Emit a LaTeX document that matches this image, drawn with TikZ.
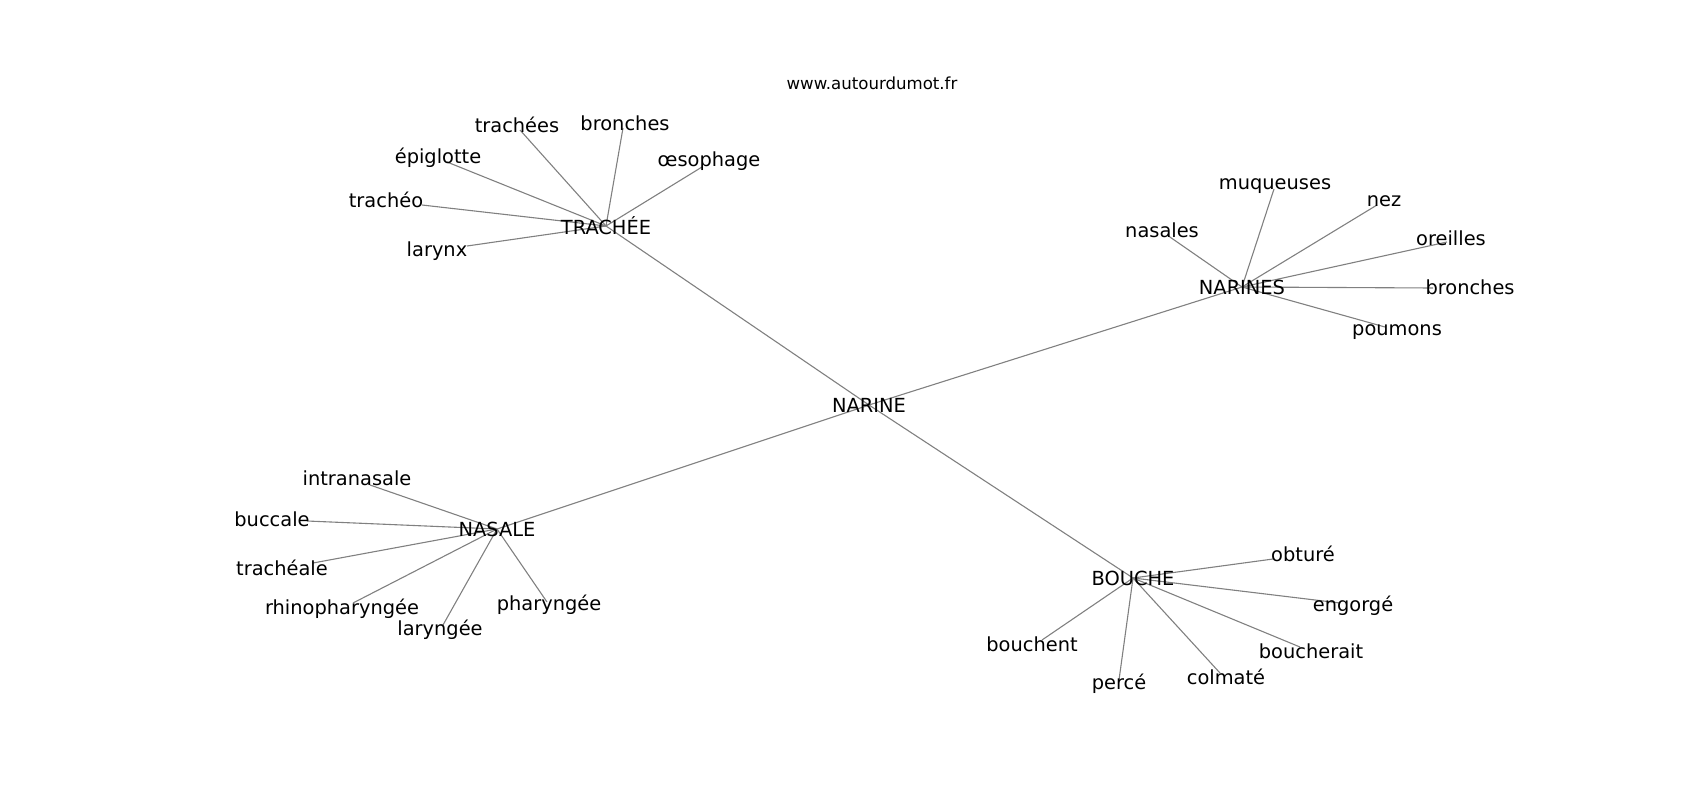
\documentclass[tikz,border=0pt]{standalone}
\usepackage{fontspec}
\setmainfont{DejaVu Sans}
\usetikzlibrary{backgrounds}
\definecolor{edgegray}{RGB}{128,128,128}
\newcommand{\wordfont}{\fontsize{19.4}{23}\selectfont}
\newcommand{\sitefont}{\fontsize{16.6}{19}\selectfont}

\begin{document}
\begin{tikzpicture}[x=1pt,y=-1pt,
  every node/.style={inner sep=0pt,font=\wordfont},
  hub/.style={},
  word/.style={},
  edge/.style={draw=edgegray,line width=1.1pt}
]
\useasboundingbox (0,0) rectangle (1700,800);

% the site
\node[font=\sitefont] (site) at (872,83) {www.autourdumot.fr};

% the hubs
\node[hub] (narine) at (869,405) {NARINE};
\node[hub] (trachee) at (606,226) {TRACHÉE};
\node[hub] (narines) at (1242,287) {NARINES};
\node[hub] (nasale) at (497,529) {NASALE};
\node[hub] (bouche) at (1133,578) {BOUCHE};

% the words
\foreach \h/\n/\px/\py/\lx/\ly/\w in {
  trachee/trachees/520/130/517/125/trachées,
  trachee/bronchesA/623/128/625/123/bronches,
  trachee/oesophage/702/167/709/161/œsophage,
  trachee/epiglotte/447/162/438/158/épiglotte,
  trachee/tracheo/422/205/386/200/trachéo,
  trachee/larynx/467/246/437/251/larynx,
  narines/nasales/1167/235/1162/230/nasales,
  narines/muqueuses/1274/189/1275/186/muqueuses,
  narines/nez/1377/205/1384/201/nez,
  narines/oreilles/1447/242/1451/238/oreilles,
  narines/bronchesB/1433/288/1470/287/bronches,
  narines/poumons/1385/327/1397/332/poumons,
  nasale/intranasale/370/485/357/478/intranasale,
  nasale/buccale/307/521/272/519/buccale,
  nasale/tracheale/313/563/282/568/trachéale,
  nasale/rhinopharyngee/353/603/342/609/rhinopharyngée,
  nasale/laryngee/443/625/440/630/laryngée,
  nasale/pharyngee/547/602/549/605/pharyngée,
  bouche/obture/1273/559/1303/554/obturé,
  bouche/engorge/1340/603/1353/606/engorgé,
  bouche/boucherait/1300/647/1311/651/boucherait,
  bouche/colmate/1220/673/1226/677/colmaté,
  bouche/perce/1119/680/1119/684/percé,
  bouche/bouchent/1042/640/1032/644/bouchent}
{
  \coordinate (\n) at (\px,\py);
  \node[word] (\n-txt) at (\lx,\ly) {\w};
  \begin{scope}[on background layer]
    \draw[edge] (\h.center) -- (\n);
  \end{scope}
}

% the edges from the centre
\begin{scope}[on background layer]
\foreach \h in {trachee,narines,nasale,bouche}
  \draw[edge] (narine.center) -- (\h.center);
\end{scope}
\end{tikzpicture}
\end{document}
